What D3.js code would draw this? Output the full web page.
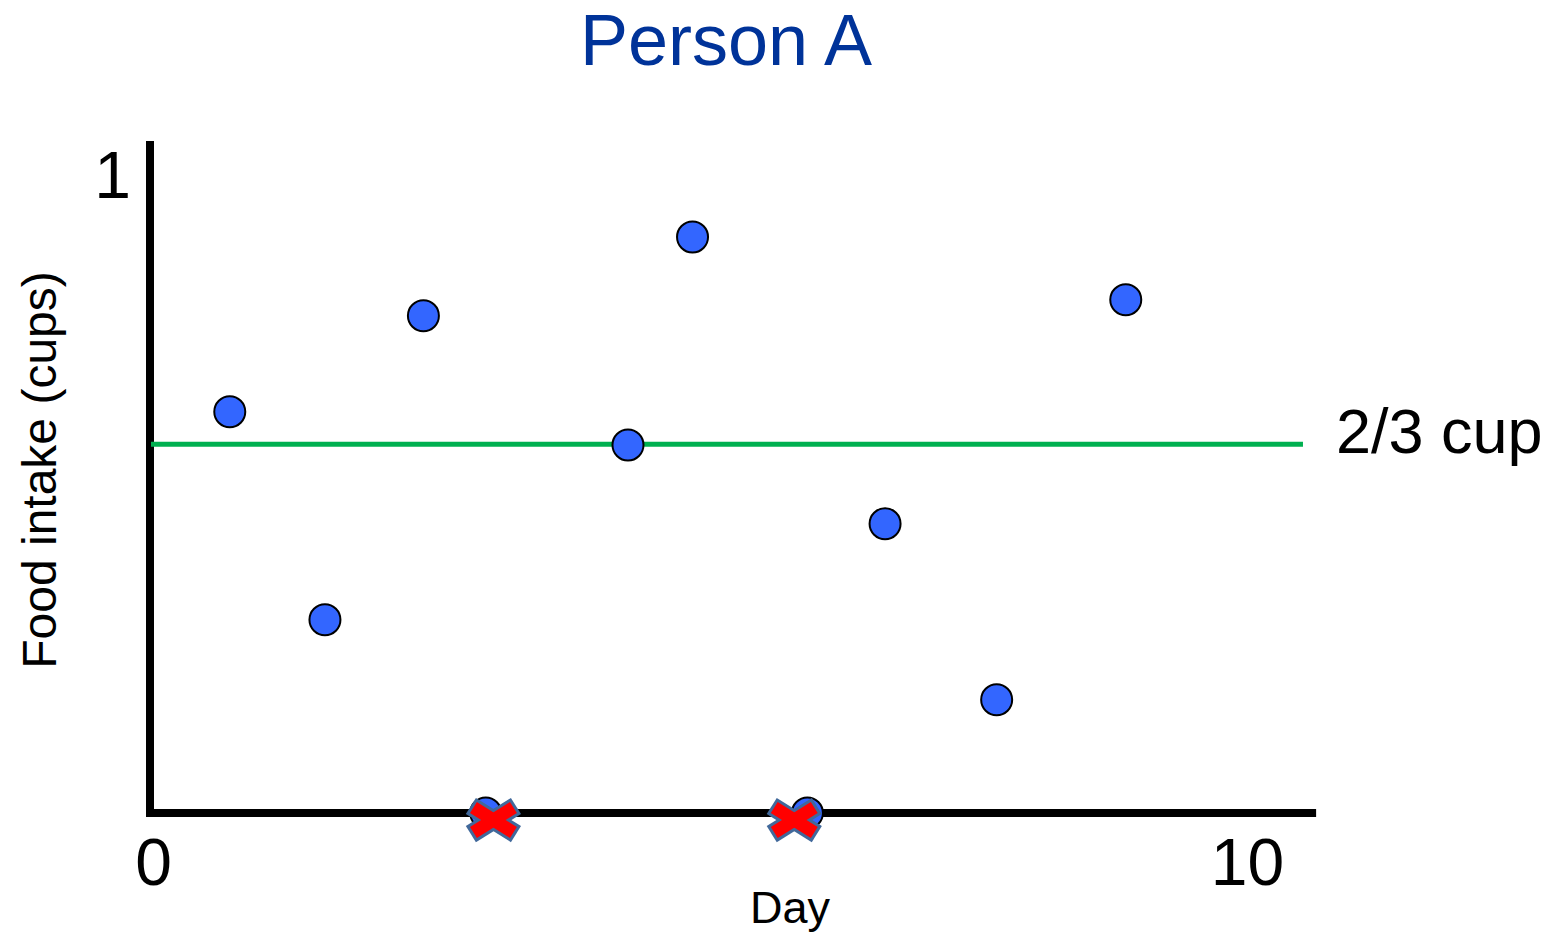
<!DOCTYPE html>
<html>
<head>
<meta charset="utf-8">
<script src="https://cdn.jsdelivr.net/npm/d3@7"></script>
<style>
  html, body { margin: 0; padding: 0; background: #ffffff; }
  svg { display: block; }
  text { font-family: "Liberation Sans", Arial, Helvetica, sans-serif; }
</style>
</head>
<body>
<svg id="chart" width="1558" height="937"></svg>
<script>
// ---- data ----
const days      = [0.72, 1.59, 2.49, 3.06, 4.36, 4.95, 6.0, 6.71, 7.73, 8.91];
const intake    = [0.627, 0.302, 0.777, 0.0, 0.575, 0.9, 0.0, 0.452, 0.177, 0.802];
const missedDays   = [3.13, 5.88];      // red "x" markers (no food eaten)
const missedIntake = [-0.011, -0.011];
const targetValue = 0.576;
const targetLabel = "2/3 cup";
const xTickValues = [0, 10];
const xTickLabels = ["0", "10"];
const yTickValues = [1];
const yTickLabels = ["1"];
const titleText = "Person A";
const xAxisTitle = "Day";
const yAxisTitle = "Food intake (cups)";

// ---- scales ----
const svg = d3.select("#chart");
const x = d3.scaleLinear().domain([0, 10]).range([151, 1245]);
const y = d3.scaleLinear().domain([0, 1]).range([813, 173]);

const xAxisEnd = 10.65;   // axis line extends past last tick
const yAxisTop = 1.05;

// ---- axes lines ----
svg.append("line")
  .attr("x1", x(0) - 5).attr("x2", x(xAxisEnd))
  .attr("y1", y(0)).attr("y2", y(0))
  .attr("stroke", "#000").attr("stroke-width", 8);
svg.append("line")
  .attr("x1", x(0) - 1).attr("x2", x(0) - 1)
  .attr("y1", y(yAxisTop)).attr("y2", y(0) + 4)
  .attr("stroke", "#000").attr("stroke-width", 8);

// ---- tick labels via d3 axes ----
const xAxis = d3.axisBottom(x).tickValues(xTickValues)
  .tickFormat((d, i) => xTickLabels[i]).tickSize(0).tickPadding(0);
const gx = svg.append("g").attr("transform", `translate(0,${y(0)})`).call(xAxis);
gx.select(".domain").remove();
gx.selectAll("text")
  .attr("dy", null).attr("y", 72).attr("dx", 2)
  .style("font-size", "66px").attr("fill", "#000")
  .style("font-family", '"Liberation Sans", Arial, sans-serif');

const yAxis = d3.axisLeft(y).tickValues(yTickValues)
  .tickFormat((d, i) => yTickLabels[i]).tickSize(0).tickPadding(0);
const gy = svg.append("g").attr("transform", `translate(${x(0) - 20},0)`).call(yAxis);
gy.select(".domain").remove();
gy.selectAll("text")
  .attr("dy", null).attr("y", 24).attr("x", 0)
  .style("font-size", "66px").attr("fill", "#000")
  .style("font-family", '"Liberation Sans", Arial, sans-serif');

// ---- target line ----
svg.append("line")
  .attr("x1", x(0)).attr("x2", x(10.53))
  .attr("y1", y(targetValue)).attr("y2", y(targetValue))
  .attr("stroke", "#00b050").attr("stroke-width", 5);
svg.append("text")
  .attr("x", 1336).attr("y", y(targetValue) + 9)
  .style("font-size", "63px").attr("fill", "#000")
  .text(targetLabel);

// ---- points ----
const pts = days.map((d, i) => ({ d, v: intake[i] }));
svg.append("g").selectAll("circle").data(pts).join("circle")
  .attr("cx", p => x(p.d)).attr("cy", p => y(p.v))
  .attr("r", 15.5)
  .attr("fill", "#3366ff")
  .attr("stroke", "#000").attr("stroke-width", 2);

// ---- missed-day X markers ----
const miss = missedDays.map((d, i) => ({ d, v: missedIntake[i] }));
const hx = 20, hy = 12.5;
const len = Math.hypot(hx, hy), ux = hx / len, uy = hy / len, ext = 3;
const gm = svg.append("g").selectAll("g").data(miss).join("g")
  .attr("transform", p => `translate(${x(p.d)},${y(p.v)})`);
[[1, 1], [1, -1]].forEach(([sx, sy]) => {
  gm.append("line")
    .attr("x1", -sx * (hx + ux * ext)).attr("y1", -sy * (hy + uy * ext))
    .attr("x2", sx * (hx + ux * ext)).attr("y2", sy * (hy + uy * ext))
    .attr("stroke", "#41699b").attr("stroke-width", 19);
});
[[1, 1], [1, -1]].forEach(([sx, sy]) => {
  gm.append("line")
    .attr("x1", -sx * hx).attr("y1", -sy * hy)
    .attr("x2", sx * hx).attr("y2", sy * hy)
    .attr("stroke", "#ff0000").attr("stroke-width", 13);
});

// ---- titles ----
svg.append("text")
  .attr("x", 726).attr("y", 65)
  .attr("text-anchor", "middle")
  .style("font-size", "72px").attr("fill", "#003399")
  .text(titleText);
svg.append("text")
  .attr("x", 790).attr("y", 923)
  .attr("text-anchor", "middle")
  .style("font-size", "45px").attr("fill", "#000")
  .text(xAxisTitle);
svg.append("text")
  .attr("transform", "translate(56,470) rotate(-90)")
  .attr("text-anchor", "middle")
  .style("font-size", "48px").attr("fill", "#000")
  .text(yAxisTitle);
</script>
</body>
</html>
